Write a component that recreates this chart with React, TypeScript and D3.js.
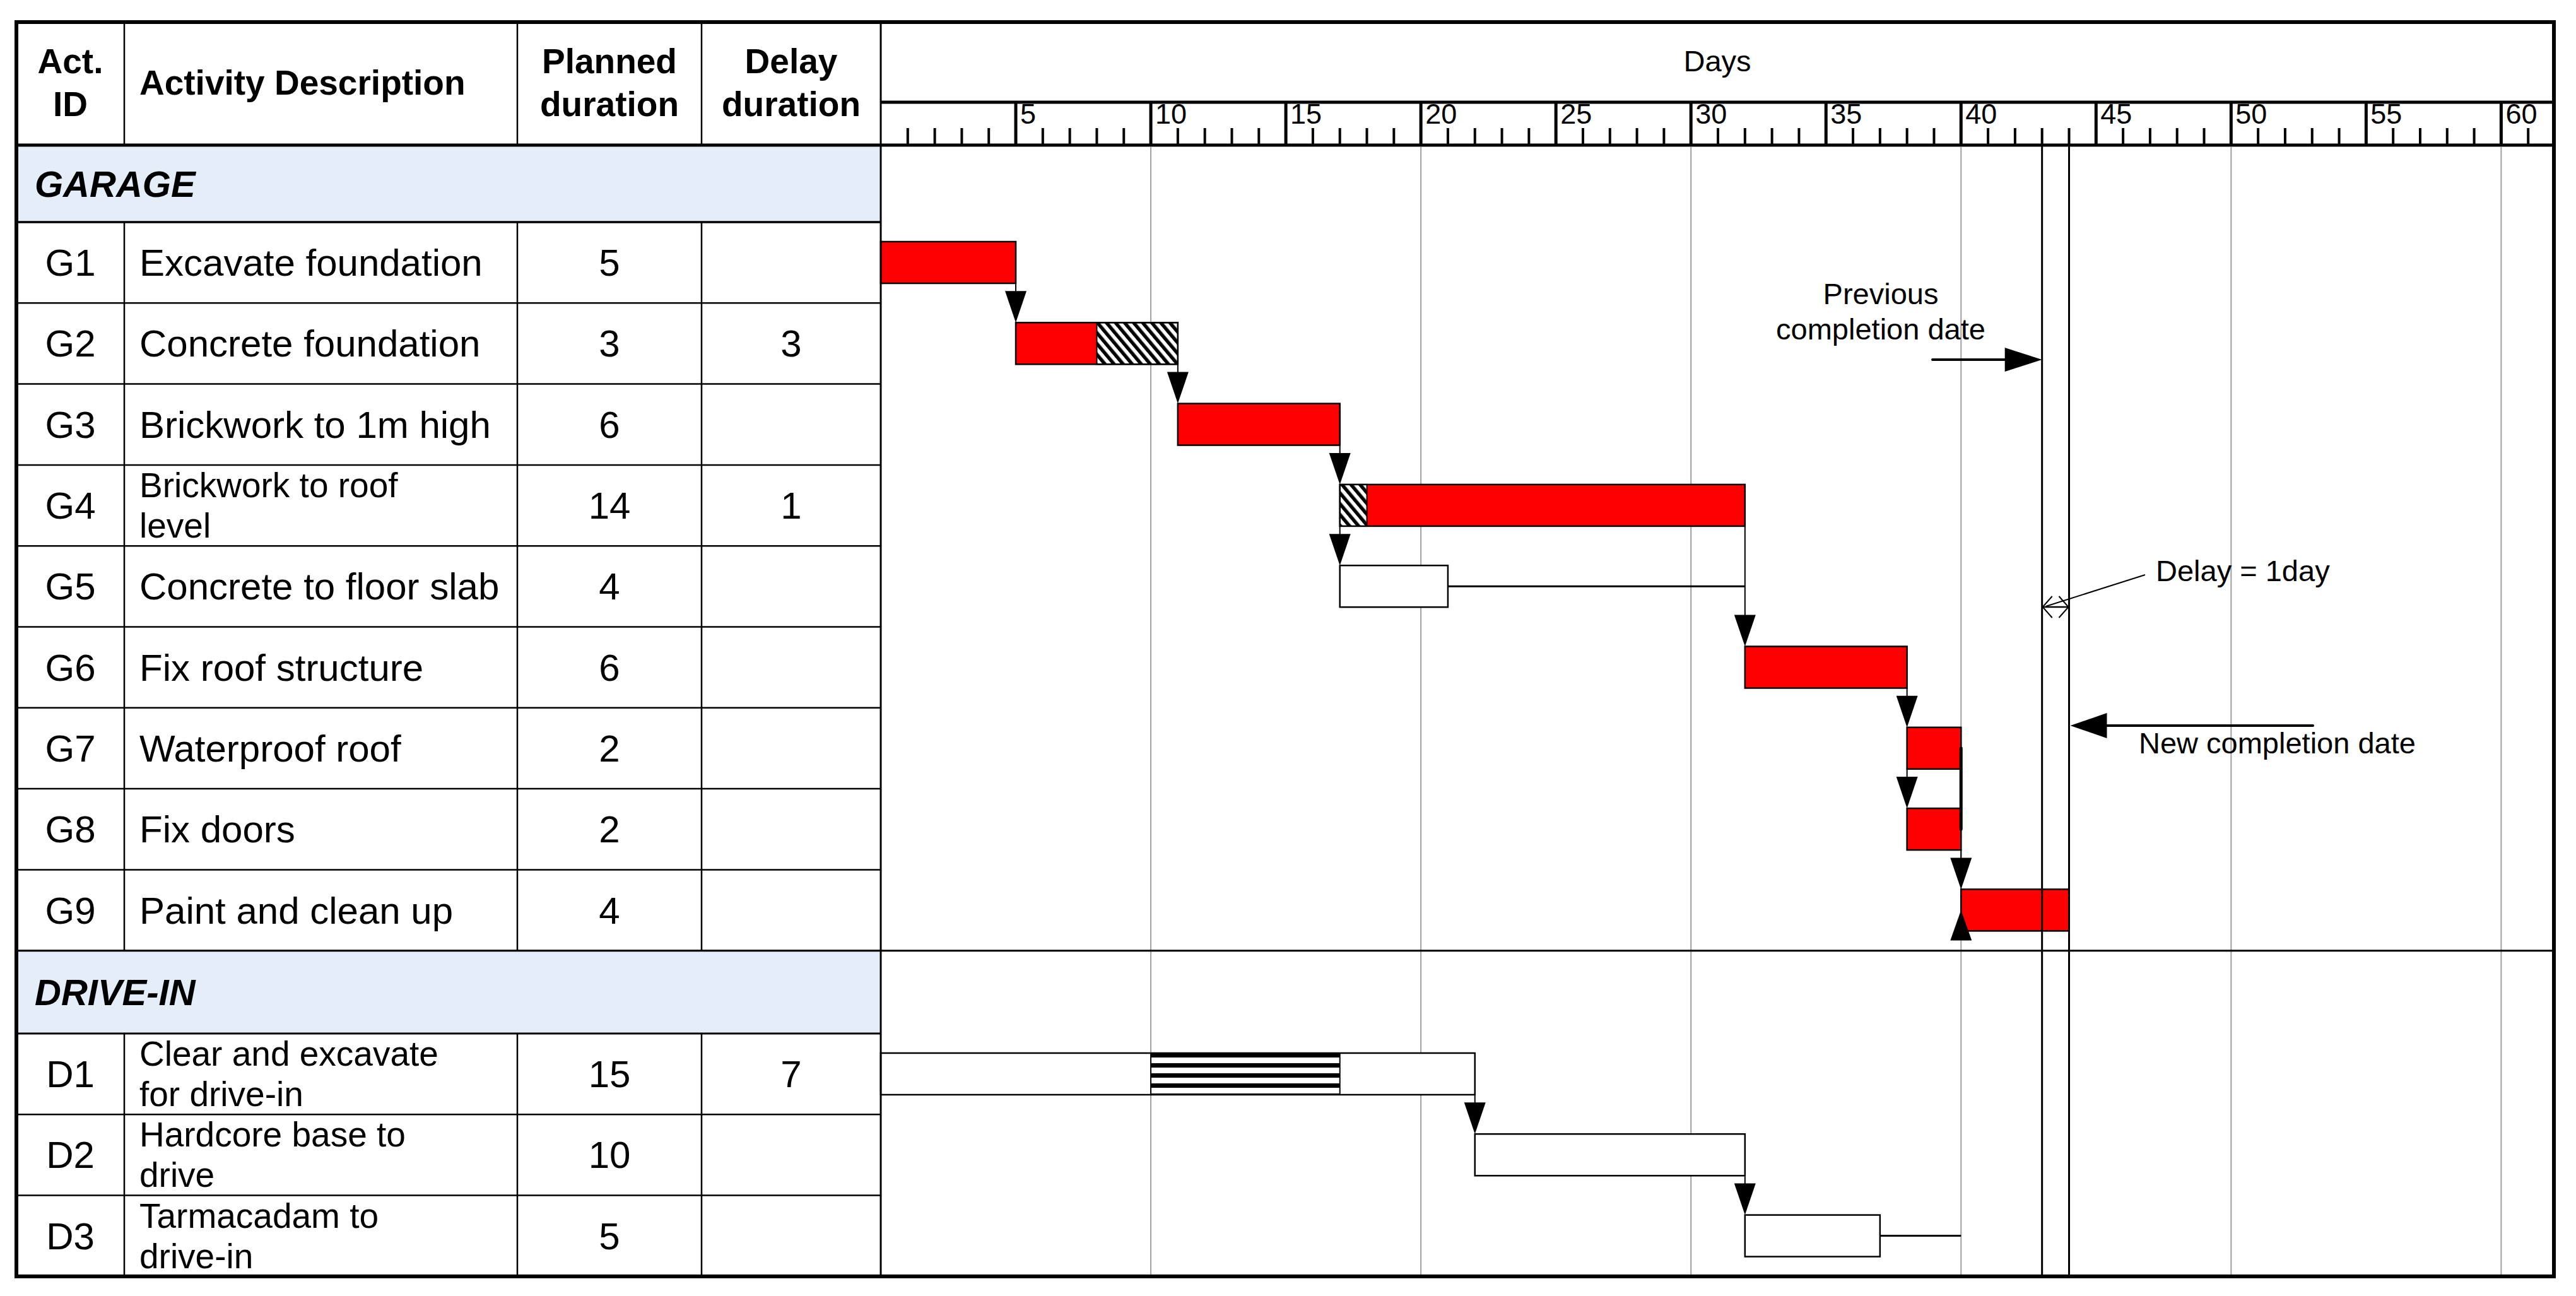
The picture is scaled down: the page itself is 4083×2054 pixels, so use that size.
import * as d3 from "d3";

// ---- data ----
const garageIds = ["G1", "G2", "G3", "G4", "G5", "G6", "G7", "G8", "G9"];
const garageDesc = [
  "Excavate foundation",
  "Concrete foundation",
  "Brickwork to 1m high",
  "Brickwork to roof\nlevel",
  "Concrete to floor slab",
  "Fix roof structure",
  "Waterproof roof",
  "Fix doors",
  "Paint and clean up",
];
const garagePlanned = [5, 3, 6, 14, 4, 6, 2, 2, 4];
const garageDelay = [0, 3, 0, 1, 0, 0, 0, 0, 0];
const garageStart = [0, 5, 11, 17, 17, 32, 38, 38, 40];
const garageDelayStart = [null, 8, null, 17, null, null, null, null, null];
const garageCritical = [true, true, true, true, false, true, true, true, true];
const garageFloatEnd = [null, null, null, null, 32, null, null, null, null];

const driveIds = ["D1", "D2", "D3"];
const driveDesc = ["Clear and excavate\nfor drive-in", "Hardcore base to\ndrive", "Tarmacadam to\ndrive-in"];
const drivePlanned = [15, 10, 5];
const driveDelay = [7, 0, 0];
const driveStart = [0, 22, 32];
const driveDelayStart = [10, null, null];
const driveCritical = [false, false, false];
const driveFloatEnd = [null, null, 40];

// dependency arrows: from, to, day
const links: [string, string, number][] = [
  ["G1", "G2", 5],
  ["G2", "G3", 11],
  ["G3", "G4", 17],
  ["G4", "G5", 17],
  ["G4", "G6", 32],
  ["G6", "G7", 38],
  ["G7", "G8", 38],
  ["G8", "G9", 40],
  ["D1", "D2", 22],
  ["D2", "D3", 32],
];

const majorTicks = [5, 10, 15, 20, 25, 30, 35, 40, 45, 50, 55, 60];
const gridDays = [10, 20, 30, 40, 50, 60];
const previousCompletion = 43;
const newCompletion = 44;

// ---- layout ----
const W = 4083;
const H = 2054;
const FONT = "'Liberation Sans', Arial, sans-serif";
const LEFT = 26;
const RIGHT = 4048;
const X0 = 1396;
const TOP = 35;
const RULER = 162;
const HEAD = 230;
const ROW = 128.3;
const G_TOP = 352;
const DRIVE_BAND = G_TOP + 9 * ROW;
const D_TOP = 1638;
const BOTTOM = D_TOP + 3 * ROW;
const COLS = [197, 820, 1112];
const BAR_OFF = 31;
const BAR_H = 66;
const WRAP_FONT = 55;
const LINE_GAP = 64;

const x = d3.scaleLinear().domain([0, 62]).range([X0, 4050]);

type Act = {
  id: string;
  desc: string;
  planned: number;
  delay: number;
  start: number;
  delayStart: number | null;
  critical: boolean;
  floatEnd: number | null;
  top: number;
  pattern: string;
};

const acts: Act[] = [
  ...garageIds.map((id, i) => ({
    id,
    desc: garageDesc[i],
    planned: garagePlanned[i],
    delay: garageDelay[i],
    start: garageStart[i],
    delayStart: garageDelayStart[i],
    critical: garageCritical[i],
    floatEnd: garageFloatEnd[i],
    top: G_TOP + i * ROW,
    pattern: "url(#diag)",
  })),
  ...driveIds.map((id, i) => ({
    id,
    desc: driveDesc[i],
    planned: drivePlanned[i],
    delay: driveDelay[i],
    start: driveStart[i],
    delayStart: driveDelayStart[i],
    critical: driveCritical[i],
    floatEnd: driveFloatEnd[i],
    top: D_TOP + i * ROW,
    pattern: "url(#horiz)",
  })),
];
const byId = new Map(acts.map((a) => [a.id, a]));
const barTop = (a: Act) => a.top + BAR_OFF;
const barBot = (a: Act) => a.top + BAR_OFF + BAR_H;
const barMid = (a: Act) => a.top + BAR_OFF + BAR_H / 2;

function downArrow(cx: number, tip: number, len = 50, hw = 17) {
  return `M${cx - hw},${tip - len}L${cx + hw},${tip - len}L${cx},${tip}Z`;
}

export default function App() {
  const d1 = byId.get("D1")!;
  const g7 = byId.get("G7")!;
  const g8 = byId.get("G8")!;
  const g9 = byId.get("G9")!;
  const minorTicks = d3.range(1, 62).filter((d) => d % 5 !== 0);

  return (
    <svg
      width={W}
      height={H}
      style={{ position: "absolute", left: 0, top: 0, display: "block", background: "#fff" }}
      fontFamily={FONT}
    >
      <defs>
        <pattern id="diag" width="11" height="11" patternUnits="userSpaceOnUse" patternTransform="rotate(-40)">
          <rect width="11" height="11" fill="#fff" />
          <rect width="5.5" height="11" fill="#000" />
        </pattern>
        <pattern id="horiz" width="16" height="16" y={barTop(d1)} patternUnits="userSpaceOnUse">
          <rect width="16" height="16" fill="#fff" />
          <rect width="16" height="7" fill="#000" />
        </pattern>
      </defs>

      <rect x={0} y={0} width={W} height={H} fill="#fff" />

      {/* section bands */}
      <rect x={LEFT} y={HEAD} width={X0 - LEFT} height={G_TOP - HEAD} fill="#E5EDF8" />
      <rect x={LEFT} y={DRIVE_BAND} width={X0 - LEFT} height={D_TOP - DRIVE_BAND} fill="#E5EDF8" />

      {/* grid */}
      {gridDays.map((d) => (
        <line key={d} x1={x(d)} x2={x(d)} y1={HEAD + 3} y2={BOTTOM} stroke="#A0A0A0" strokeWidth={2} />
      ))}

      {/* bars */}
      {acts.map((a) => {
        const end = a.start + a.planned + a.delay;
        return (
          <g key={a.id}>
            <rect
              x={x(a.start)}
              y={barTop(a)}
              width={x(end) - x(a.start)}
              height={BAR_H}
              fill={a.critical ? "#FF0000" : "#fff"}
            />
            {a.delayStart !== null && (
              <rect
                x={x(a.delayStart)}
                y={barTop(a)}
                width={x(a.delayStart + a.delay) - x(a.delayStart)}
                height={BAR_H}
                fill={a.pattern}
                stroke="#000"
                strokeWidth={2}
              />
            )}
            <rect
              x={x(a.start)}
              y={barTop(a)}
              width={x(end) - x(a.start)}
              height={BAR_H}
              fill="none"
              stroke="#000"
              strokeWidth={2.5}
            />
            {a.floatEnd !== null && (
              <line
                x1={x(end)}
                x2={x(a.floatEnd)}
                y1={barMid(a)}
                y2={barMid(a)}
                stroke="#000"
                strokeWidth={a.critical ? 2 : 3}
              />
            )}
          </g>
        );
      })}

      {/* dependency arrows */}
      {links.map(([f, t, d]) => {
        const a = byId.get(f)!;
        const b = byId.get(t)!;
        return (
          <g key={f + t}>
            <line x1={x(d)} x2={x(d)} y1={barBot(a)} y2={barTop(b) - 40} stroke="#000" strokeWidth={2} />
            <path d={downArrow(x(d), barTop(b))} fill="#000" />
          </g>
        );
      })}
      <line x1={x(40)} x2={x(40)} y1={barMid(g7)} y2={barMid(g8)} stroke="#000" strokeWidth={5} strokeLinecap="round" />
      <path
        d={`M${x(40) - 17},${barMid(g9) + 48}L${x(40) + 17},${barMid(g9) + 48}L${x(40)},${barMid(g9)}Z`}
        fill="#000"
      />

      {/* completion dates */}
      {[previousCompletion, newCompletion].map((d) => (
        <line key={d} x1={x(d)} x2={x(d)} y1={HEAD} y2={BOTTOM} stroke="#000" strokeWidth={3} />
      ))}

      {/* annotations */}
      <g fontSize={47} fill="#000">
        <text x={2981} y={482} textAnchor="middle">Previous</text>
        <text x={2981} y={538} textAnchor="middle">completion date</text>
        <line x1={3063} x2={x(previousCompletion) - 50} y1={570} y2={570} stroke="#000" strokeWidth={4} strokeLinecap="round" />
        <path
          d={`M${x(previousCompletion) - 59},${551}L${x(previousCompletion)},${570}L${x(previousCompletion) - 59},${589}Z`}
          fill="#000"
        />

        <text x={3417} y={921}>Delay = 1day</text>
        <line x1={3400} y1={911} x2={x(previousCompletion) + 6} y2={961} stroke="#000" strokeWidth={2} />
        <line x1={x(previousCompletion)} x2={x(newCompletion)} y1={962} y2={962} stroke="#000" strokeWidth={2.5} />
        <path
          d={`M${x(previousCompletion) + 16},945L${x(previousCompletion) + 1},962L${x(previousCompletion) + 16},979`}
          fill="none"
          stroke="#000"
          strokeWidth={2}
        />
        <path
          d={`M${x(newCompletion) - 16},945L${x(newCompletion) - 1},962L${x(newCompletion) - 16},979`}
          fill="none"
          stroke="#000"
          strokeWidth={2}
        />

        <line x1={x(newCompletion) + 50} x2={3666} y1={1150} y2={1150} stroke="#000" strokeWidth={4} strokeLinecap="round" />
        <path
          d={`M${x(newCompletion) + 60},1130L${x(newCompletion) + 2},1150L${x(newCompletion) + 60},1170Z`}
          fill="#000"
        />
        <text x={3390} y={1194}>New completion date</text>
      </g>

      {/* ruler */}
      {minorTicks.map((d) => (
        <line key={d} x1={x(d)} x2={x(d)} y1={203} y2={HEAD} stroke="#000" strokeWidth={4} />
      ))}
      {majorTicks.map((d) => (
        <g key={d}>
          <line x1={x(d)} x2={x(d)} y1={RULER} y2={HEAD} stroke="#000" strokeWidth={5} />
          <text x={x(d) + 7} y={196} fontSize={45}>
            {d}
          </text>
        </g>
      ))}
      <text x={(X0 + RIGHT) / 2} y={113} fontSize={47} textAnchor="middle">
        Days
      </text>

      {/* table lines */}
      <g stroke="#000">
        {acts.map((a) => (
          <line key={a.id} x1={LEFT} x2={X0} y1={a.top + ROW} y2={a.top + ROW} strokeWidth={2.5} />
        ))}
        <line x1={LEFT} x2={X0} y1={G_TOP} y2={G_TOP} strokeWidth={3.5} />
        <line x1={LEFT} x2={RIGHT} y1={DRIVE_BAND} y2={DRIVE_BAND} strokeWidth={3} />
        <line x1={LEFT} x2={X0} y1={D_TOP} y2={D_TOP} strokeWidth={3} />
        {COLS.map((c) => (
          <g key={c}>
            <line x1={c} x2={c} y1={TOP} y2={HEAD} strokeWidth={2.5} />
            <line x1={c} x2={c} y1={G_TOP} y2={DRIVE_BAND} strokeWidth={2.5} />
            <line x1={c} x2={c} y1={D_TOP} y2={BOTTOM} strokeWidth={2.5} />
          </g>
        ))}
        <line x1={X0} x2={X0} y1={TOP} y2={BOTTOM} strokeWidth={3} />
        <line x1={X0} x2={RIGHT} y1={RULER} y2={RULER} strokeWidth={5} />
        <line x1={LEFT} x2={RIGHT} y1={HEAD} y2={HEAD} strokeWidth={5} />
        <rect x={LEFT} y={TOP} width={RIGHT - LEFT} height={BOTTOM - TOP} fill="none" strokeWidth={6} />
      </g>

      {/* header text */}
      <g fontSize={55} fontWeight="bold" textAnchor="middle">
        <text x={(LEFT + COLS[0]) / 2} y={116}>Act.</text>
        <text x={(LEFT + COLS[0]) / 2} y={184}>ID</text>
        <text x={221} y={150} textAnchor="start">Activity Description</text>
        <text x={(COLS[1] + COLS[2]) / 2} y={116}>Planned</text>
        <text x={(COLS[1] + COLS[2]) / 2} y={184}>duration</text>
        <text x={(COLS[2] + X0) / 2} y={116}>Delay</text>
        <text x={(COLS[2] + X0) / 2} y={184}>duration</text>
      </g>
      <g fontSize={58} fontWeight="bold" fontStyle="italic">
        <text x={55} y={(HEAD + G_TOP) / 2 + 21}>GARAGE</text>
        <text x={55} y={(DRIVE_BAND + D_TOP) / 2 + 21}>DRIVE-IN</text>
      </g>

      {/* row text */}
      <g fontSize={60}>
        {acts.map((a) => {
          const cy = a.top + ROW / 2;
          const lines = a.desc.split("\n");
          const wrapped = lines.length > 1;
          return (
            <g key={a.id}>
              <text x={(LEFT + COLS[0]) / 2} y={cy + 21} textAnchor="middle">
                {a.id}
              </text>
              {lines.map((l, k) => (
                <text
                  key={k}
                  x={221}
                  y={cy + (wrapped ? 19 : 21) + (k - (lines.length - 1) / 2) * LINE_GAP}
                  fontSize={wrapped ? WRAP_FONT : 60}
                >
                  {l}
                </text>
              ))}
              <text x={(COLS[1] + COLS[2]) / 2} y={cy + 21} textAnchor="middle">
                {a.planned}
              </text>
              {a.delay > 0 && (
                <text x={(COLS[2] + X0) / 2} y={cy + 21} textAnchor="middle">
                  {a.delay}
                </text>
              )}
            </g>
          );
        })}
      </g>
    </svg>
  );
}
